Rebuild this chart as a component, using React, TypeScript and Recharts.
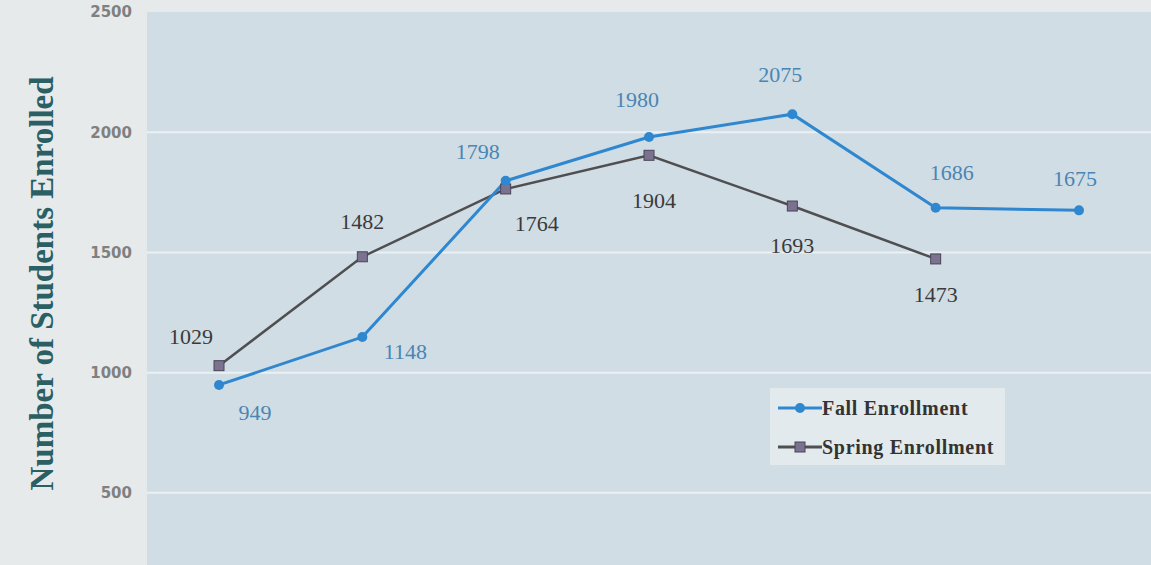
import React from 'react';
import {
  LineChart,
  Line,
  XAxis,
  YAxis,
  CartesianGrid,
  LabelList,
  Label,
} from 'recharts';

const terms = ['Term 1', 'Term 2', 'Term 3', 'Term 4', 'Term 5', 'Term 6', 'Term 7'];
const fallEnrollment = [949, 1148, 1798, 1980, 2075, 1686, 1675];
const springEnrollment: (number | null)[] = [1029, 1482, 1764, 1904, 1693, 1473, null];
const yTicks = [500, 1000, 1500, 2000, 2500];

// where each value label sits relative to its point
const fallLabelOffsets = [[36, 28], [43, 14], [-28, -29], [-12, -38], [-12, -40], [16, -35], [-4, -32]];
const springLabelOffsets = [[-28, -29], [0, -35], [31, 35], [5, 45], [0, 39], [0, 36]];

const FALL_COLOR = '#2e87cf';
const FALL_TEXT = '#4a85b3';
const SPRING_COLOR = '#4f4f52';
const SPRING_MARK = '#7b7290';
const SERIF = '"Liberation Serif", "DejaVu Serif", serif';

const data = terms.map((term, i) => ({
  term,
  fall: fallEnrollment[i],
  spring: springEnrollment[i],
}));

const makeLabel = (offsets: number[][], color: string) => (props: any) => {
  const { x, y, value, index } = props;
  if (value == null || !offsets[index]) return null;
  const [dx, dy] = offsets[index];
  return (
    <text
      x={x + dx}
      y={y + dy}
      textAnchor="middle"
      dominantBaseline="central"
      fill={color}
      fontFamily={SERIF}
      fontSize={22}
    >
      {value}
    </text>
  );
};

const SquareDot = (props: any) => {
  const { cx, cy, value } = props;
  if (value == null || cx == null || cy == null) return null;
  return (
    <rect x={cx - 5} y={cy - 5} width={10} height={10} fill={SPRING_MARK} stroke="#4a4458" strokeWidth={1} />
  );
};

const LegendIcon = ({ color, square }: { color: string; square?: boolean }) => (
  <svg width={44} height={14} style={{ display: 'block' }}>
    <line x1={0} y1={7} x2={44} y2={7} stroke={color} strokeWidth={3} />
    {square ? (
      <rect x={17} y={2} width={10} height={10} fill={SPRING_MARK} stroke="#4a4458" />
    ) : (
      <circle cx={22} cy={7} r={5} fill={FALL_COLOR} />
    )}
  </svg>
);

const ChartLegend = () => (
  <div
    style={{
      position: 'absolute',
      left: 770,
      top: 388,
      background: '#e2eaed',
      width: 235,
      height: 77,
      boxSizing: 'border-box',
      padding: '5px 0 0 8px',
      fontFamily: SERIF,
      fontWeight: 'bold',
      fontSize: 20,
      letterSpacing: 0.7,
      color: '#333',
    }}
  >
    <div style={{ display: 'flex', alignItems: 'center', height: 30 }}>
      <LegendIcon color={FALL_COLOR} />
      <span>Fall Enrollment</span>
    </div>
    <div style={{ display: 'flex', alignItems: 'center', height: 48 }}>
      <LegendIcon color={SPRING_COLOR} square />
      <span>Spring Enrollment</span>
    </div>
  </div>
);

const AxisTitle = (props: any) => {
  const { viewBox } = props;
  const cy = viewBox.y + viewBox.height / 2 - 5;
  return (
    <text
      x={42}
      y={cy}
      transform={`rotate(-90, 42, ${cy})`}
      textAnchor="middle"
      dominantBaseline="central"
      fill="#2b5f63"
      fontFamily={SERIF}
      fontWeight="bold"
      fontSize={33}
    >
      Number of Students Enrolled
    </text>
  );
};

export default function App() {
  return (
    <div style={{ position: 'absolute', left: 0, top: 0, width: 1151, height: 565, background: '#e6eaeb' }}>
      <LineChart width={1151} height={565} data={data} margin={{ top: 12, right: 0, bottom: 0, left: 0 }}>
        <CartesianGrid
          vertical={false}
          fill="#d0dde4"
          stroke="#eaf0f4"
          strokeWidth={2}
          horizontalValues={[500, 1000, 1500, 2000]}
        />
        <XAxis dataKey="term" hide padding={{ left: 72, right: 72 }} />
        <YAxis
          width={147}
          domain={[200, 2500]}
          ticks={yTicks}
          allowDataOverflow
          axisLine={false}
          tickLine={false}
          tickSize={6}
          tickMargin={9}
          tick={{ fill: '#808080', fontSize: 15, fontFamily: '"DejaVu Sans", sans-serif', fontWeight: 600 }}
        >
          <Label content={<AxisTitle />} />
        </YAxis>
        <Line
          type="linear"
          dataKey="spring"
          stroke={SPRING_COLOR}
          strokeWidth={2.5}
          dot={<SquareDot />}
          activeDot={false}
          isAnimationActive={false}
        >
          <LabelList dataKey="spring" content={makeLabel(springLabelOffsets, '#3a3a3a')} />
        </Line>
        <Line
          type="linear"
          dataKey="fall"
          stroke={FALL_COLOR}
          strokeWidth={3}
          dot={{ r: 5, fill: FALL_COLOR, stroke: FALL_COLOR, strokeWidth: 0 }}
          activeDot={false}
          isAnimationActive={false}
        >
          <LabelList dataKey="fall" content={makeLabel(fallLabelOffsets, FALL_TEXT)} />
        </Line>
      </LineChart>
      <ChartLegend />
    </div>
  );
}
